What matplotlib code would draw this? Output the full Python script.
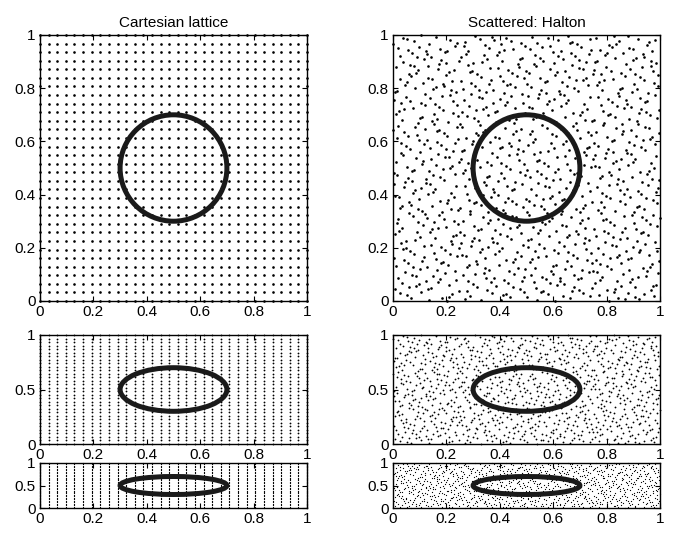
import numpy as np
import matplotlib
matplotlib.use('Agg')
import matplotlib.pyplot as plt
from matplotlib.patches import Ellipse

plt.rcParams['font.family'] = ['Liberation Sans', 'DejaVu Sans']
plt.rcParams['font.size'] = 10

# node sets
lattice_n = 32
lattice_1d = np.linspace(0, 1, lattice_n)
halton_n = lattice_n * lattice_n
halton_bases = [2, 3]

# embedded boundary (circle, radius 0.2)
circle_center = (0.5, 0.5)
circle_radius = 0.2

titles = ['Cartesian lattice', 'Scattered: Halton']
xticks = [0, 0.2, 0.4, 0.6, 0.8, 1]
yticks_square = [0, 0.2, 0.4, 0.6, 0.8, 1]
yticks_strip = [0, 0.5, 1]


def radical_inverse(i, base):
    f, r = 1.0, 0.0
    while i > 0:
        f = f / base
        r += f * (i % base)
        i //= base
    return r


def halton(n, bases):
    pts = np.zeros((n, len(bases)))
    for k in range(n):
        for d, b in enumerate(bases):
            pts[k, d] = radical_inverse(k + 1, b)
    return pts


lx, ly = np.meshgrid(lattice_1d, lattice_1d)
lattice_pts = np.column_stack([lx.ravel(), ly.ravel()])
halton_pts = halton(halton_n, halton_bases)
node_sets = [lattice_pts, halton_pts]


def fmt(v):
    return ('%g' % v)


fig = plt.figure(figsize=(6.81, 5.40), dpi=100)

W, H = 681.0, 540.0
lefts = [40, 393]
width = 267
rows = [(35, 301), (335, 444), (463, 508)]  # top, bottom in pixels
msizes = [1.9, 1.3, 0.9]

for col in range(2):
    pts = node_sets[col]
    for r, (top, bot) in enumerate(rows):
        ax = fig.add_axes([lefts[col] / W, 1 - bot / H, width / W, (bot - top) / H])
        ax.plot(pts[:, 0], pts[:, 1], 'o', color='k', markersize=msizes[r],
                markeredgewidth=0, clip_on=False, zorder=2)
        ax.add_patch(Ellipse(circle_center, 2 * circle_radius, 2 * circle_radius,
                             fill=False, edgecolor='#1a1a1a', linewidth=3.6, zorder=3))
        ax.set_xlim(0, 1)
        ax.set_ylim(0, 1)
        ax.set_xticks(xticks)
        ax.set_xticklabels([fmt(v) for v in xticks])
        yt = yticks_square if r == 0 else yticks_strip
        ax.set_yticks(yt)
        ax.set_yticklabels([fmt(v) for v in yt])
        ax.tick_params(direction='in', top=True, right=True, length=3.5,
                       width=0.8, labelsize=11, pad=3)
        for s in ax.spines.values():
            s.set_linewidth(1.0)
        if r == 0:
            ax.set_title(titles[col], fontsize=11, pad=6)

fig.savefig('out.png', dpi=100)
